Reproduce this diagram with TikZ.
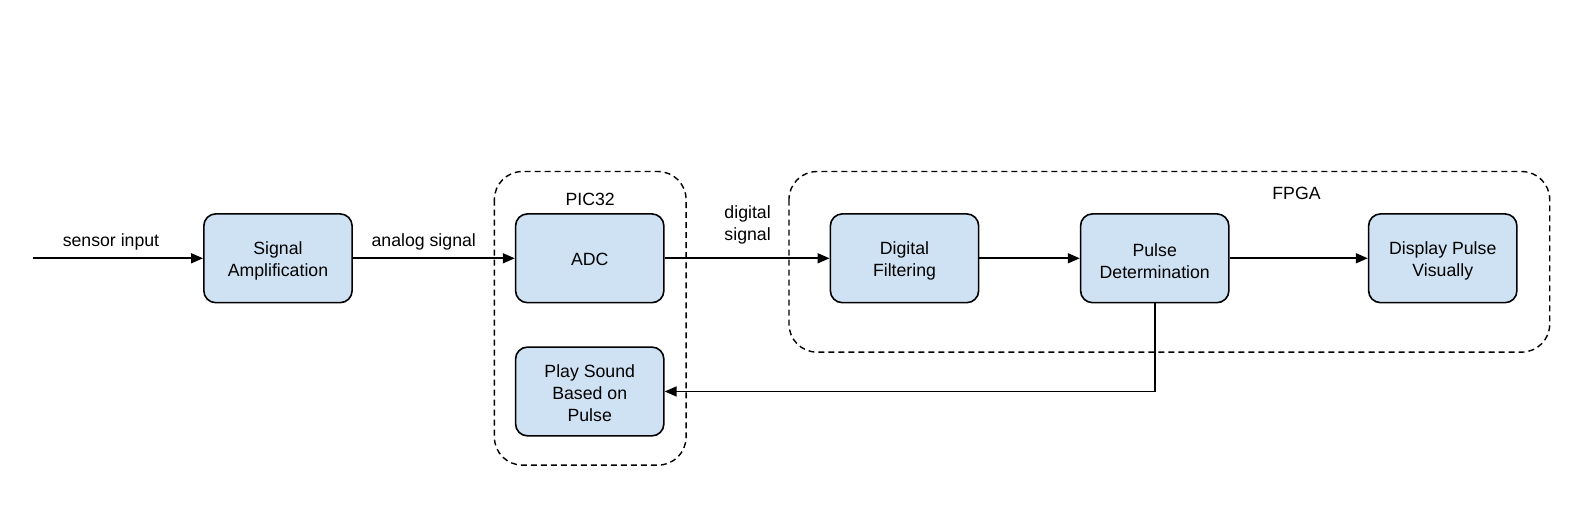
\documentclass[tikz,border=0pt]{standalone}
\usepackage{fontspec}
\setmainfont{Liberation Sans}
\usetikzlibrary{arrows.meta,positioning}
\definecolor{boxblue}{HTML}{CFE2F3}
\begin{document}
\begin{tikzpicture}[x=1.0089bp,y=-1.0089bp,
  blk/.style={draw=black,line width=1.6bp,fill=boxblue,rounded corners=12bp,
    minimum width=148.3bp,minimum height=88.8bp,inner sep=0pt},
  grp/.style={draw=black,line width=1.4bp,dash pattern=on 6bp off 4bp,rounded corners=28bp},
  lbl/.style={font=\fontsize{17.7bp}{22.2bp}\selectfont,inner sep=0pt,align=center},
  conn/.style={line width=1.6bp,-{Triangle[length=12bp,width=10bp]}}]
\useasboundingbox (0,0) rectangle (1568,524.3);
% groups
\draw[grp] (490,170) rectangle (680,461);
\draw[grp] (782,170) rectangle (1536,349);
\node[lbl] (pic) at (585,197.5) {PIC32};
\node[lbl] (fpga) at (1285,191.5) {FPGA};
% blocks
\node[blk] (amp) at (275.5,256) {};
\node[blk] (adc) at (584.5,256) {};
\node[blk] (snd) at (584.5,388) {};
\node[blk] (flt) at (896.5,256) {};
\node[blk] (pls) at (1144.5,256) {};
\node[blk] (dsp) at (1430,256) {};
\node[lbl] (amp-t) at ([yshift=-2.5bp]amp.center) {Signal\\Amplification};
\node[lbl] (adc-t) at ([yshift=-1.5bp]adc.center) {ADC};
\node[lbl] (snd-t) at ([yshift=-1.5bp]snd.center) {Play Sound\\Based on\\Pulse};
\node[lbl] (flt-t) at ([yshift=-2.5bp]flt.center) {Digital\\Filtering};
\node[lbl] (pls-t) at ([yshift=-2.5bp]pls.center) {Pulse\\Determination};
\node[lbl] (dsp-t) at ([yshift=-2.5bp]dsp.center) {Display Pulse\\Visually};
% connectors
\coordinate (in) at (33,256);
\draw[conn] (in) -- (amp.west);
\draw[conn] (amp.east) -- (adc.west);
\draw[conn] (adc.east) -- (flt.west);
\draw[conn] (flt.east) -- (pls.west);
\draw[conn] (pls.east) -- (dsp.west);
\draw[conn] (pls.south) |- (snd.east);
% labels
\node[lbl] (l1) at (110,240) {sensor input};
\node[lbl] (l2) at (420,240) {analog signal};
\node[lbl] (l3) at (741,223) {digital\\signal};
\end{tikzpicture}
\end{document}
